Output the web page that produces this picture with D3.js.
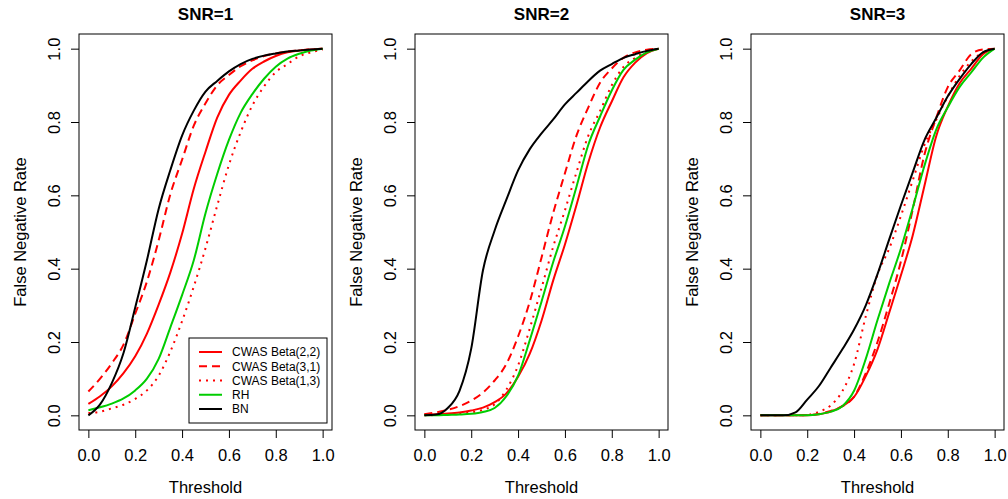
<!DOCTYPE html>
<html>
<head>
  <meta charset="utf-8">
  <title>False Negative Rate by Threshold</title>
  <style>
  body { margin: 0; background: #fff; }
  svg { display: block; font-family: "Liberation Sans", Arial, Helvetica, sans-serif; }
  .series { fill: none; stroke-width: 2px; }
  .axis text { font-size: 16.5px; fill: #000; }
  .axis line, .axis path { stroke: #000; }
  </style>
</head>
<body>
  <svg width="1008" height="499"></svg>
  <script src="https://d3js.org/d3.v7.min.js"></script>
  <script>
  // 1. data (threshold step 0.05)
  var thresholds = [0, 0.05, 0.1, 0.15, 0.2, 0.25, 0.3, 0.35, 0.4, 0.45, 0.5,
                    0.55, 0.6, 0.65, 0.7, 0.75, 0.8, 0.85, 0.9, 0.95, 1];
  var xTicks = [0, 0.2, 0.4, 0.6, 0.8, 1.0];
  var yTicks = [0, 0.2, 0.4, 0.6, 0.8, 1.0];
  var panelTitles = ["SNR=1", "SNR=2", "SNR=3"];
  var seriesNames = ["CWAS Beta(2,2)", "CWAS Beta(3,1)", "CWAS Beta(1,3)", "RH", "BN"];
  var seriesColors = ["#ff0000", "#ff0000", "#ff0000", "#00cd00", "#000000"];
  var seriesDash = [null, "8,5", "2,5", null, null];

  // SNR=1
  var snr1Beta22 = [0.031,0.052,0.079,0.115,0.161,0.223,0.302,0.39,0.495,0.618,0.719,0.812,0.874,0.913,0.945,0.965,0.98,0.99,0.995,0.998,1];
  var snr1Beta31 = [0.065,0.1,0.142,0.193,0.277,0.365,0.477,0.603,0.697,0.79,0.851,0.9,0.928,0.952,0.968,0.98,0.987,0.992,0.995,0.998,1];
  var snr1Beta13 = [0.006,0.01,0.019,0.029,0.045,0.068,0.108,0.174,0.257,0.351,0.456,0.572,0.683,0.772,0.845,0.897,0.936,0.958,0.979,0.99,0.998];
  var snr1RH     = [0.014,0.022,0.032,0.046,0.068,0.1,0.154,0.24,0.328,0.423,0.551,0.658,0.751,0.825,0.876,0.918,0.951,0.973,0.986,0.995,1];
  var snr1BN     = [0,0.03,0.088,0.17,0.294,0.423,0.563,0.669,0.763,0.831,0.883,0.912,0.938,0.958,0.972,0.981,0.987,0.992,0.995,0.998,1];
  // SNR=2
  var snr2Beta22 = [0.002,0.003,0.005,0.008,0.013,0.021,0.036,0.06,0.105,0.168,0.258,0.368,0.466,0.575,0.69,0.785,0.856,0.922,0.962,0.988,1];
  var snr2Beta31 = [0.003,0.008,0.015,0.025,0.04,0.062,0.095,0.14,0.215,0.31,0.43,0.552,0.66,0.764,0.84,0.907,0.946,0.975,0.99,0.997,1];
  var snr2Beta13 = [0,0.001,0.003,0.005,0.008,0.015,0.03,0.07,0.136,0.237,0.347,0.46,0.559,0.664,0.763,0.83,0.9,0.95,0.975,0.992,1];
  var snr2RH     = [0,0,0.001,0.002,0.004,0.009,0.02,0.052,0.108,0.205,0.31,0.418,0.515,0.625,0.738,0.815,0.886,0.942,0.97,0.99,1];
  var snr2BN     = [0,0.002,0.02,0.067,0.182,0.395,0.504,0.588,0.668,0.726,0.769,0.807,0.848,0.88,0.912,0.94,0.958,0.975,0.985,0.994,1];
  // SNR=3
  var snr3Beta22 = [0,0,0,0,0,0.003,0.01,0.025,0.05,0.107,0.18,0.28,0.382,0.49,0.625,0.76,0.842,0.905,0.945,0.985,1];
  var snr3Beta31 = [0,0,0,0,0.001,0.004,0.012,0.025,0.051,0.115,0.2,0.305,0.42,0.56,0.71,0.81,0.895,0.94,0.985,0.998,1];
  var snr3Beta13 = [0,0,0,0,0.001,0.01,0.027,0.066,0.14,0.27,0.384,0.455,0.544,0.64,0.737,0.805,0.87,0.925,0.965,0.99,1];
  var snr3RH     = [0,0,0,0,0,0.003,0.01,0.025,0.067,0.154,0.26,0.36,0.455,0.565,0.68,0.778,0.84,0.895,0.935,0.975,1];
  var snr3BN     = [0,0,0,0.008,0.043,0.08,0.13,0.18,0.234,0.3,0.385,0.48,0.573,0.662,0.75,0.81,0.87,0.917,0.958,0.99,1];

  var panels = [
    [snr1Beta22, snr1Beta31, snr1Beta13, snr1RH, snr1BN],
    [snr2Beta22, snr2Beta31, snr2Beta13, snr2RH, snr2BN],
    [snr3Beta22, snr3Beta31, snr3Beta13, snr3RH, snr3BN]
  ];

  // 2. layout
  var boxLeft0 = 79, boxStep = 336, boxW = 253, boxTop = 34, boxBottom = 430;
  var svg = d3.select("svg");

  panels.forEach(function(series, p) {
    var left = boxLeft0 + boxStep * p;
    var x = d3.scaleLinear().domain([-0.04, 1.04]).range([left, left + boxW]);
    var y = d3.scaleLinear().domain([-0.04, 1.04]).range([boxBottom, boxTop]);

    var g = svg.append("g");

    // lines
    var line = d3.line()
      .x(function(d, i) { return x(thresholds[i]); })
      .y(function(d) { return y(d); })
      .curve(d3.curveMonotoneX);

    series.forEach(function(vals, s) {
      g.append("path")
        .attr("class", "series")
        .attr("d", line(vals))
        .attr("stroke", seriesColors[s])
        .attr("stroke-dasharray", seriesDash[s]);
    });

    // box
    g.append("rect")
      .attr("x", left).attr("y", boxTop)
      .attr("width", boxW).attr("height", boxBottom - boxTop)
      .attr("fill", "none").attr("stroke", "#000").attr("stroke-width", 1);

    // axes
    var xAxis = g.append("g")
      .attr("class", "axis")
      .attr("transform", "translate(0," + boxBottom + ")")
      .call(d3.axisBottom(x).tickValues(xTicks).tickSize(8).tickSizeOuter(0).tickFormat(d3.format(".1f")));
    xAxis.select(".domain").remove();
    xAxis.selectAll("text").attr("y", 31).attr("dy", null)
      .attr("font-family", null).attr("font-size", null);

    var yAxis = g.append("g")
      .attr("class", "axis")
      .attr("transform", "translate(" + left + ",0)")
      .call(d3.axisLeft(y).tickValues(yTicks).tickSize(8).tickSizeOuter(0).tickFormat(d3.format(".1f")));
    yAxis.select(".domain").remove();
    yAxis.selectAll("text")
      .attr("x", 0).attr("y", -19).attr("dy", null)
      .attr("text-anchor", "middle")
      .attr("transform", "rotate(-90)")
      .attr("font-family", null).attr("font-size", null);

    var cx = left + boxW / 2;
    g.append("text")
      .attr("x", cx).attr("y", 20)
      .attr("text-anchor", "middle")
      .attr("font-size", "17px").attr("font-weight", "bold")
      .text(panelTitles[p]);

    g.append("text")
      .attr("x", cx).attr("y", 493)
      .attr("text-anchor", "middle")
      .attr("font-size", "16.5px")
      .text("Threshold");

    g.append("text")
      .attr("transform", "translate(" + (left - 53) + "," + ((boxTop + boxBottom) / 2) + ") rotate(-90)")
      .attr("text-anchor", "middle")
      .attr("font-size", "16.5px")
      .text("False Negative Rate");

    // legend (first panel only)
    if (p === 0) {
      var lgW = 138, lgH = 85;
      var lgX = left + boxW - 5 - lgW, lgY = boxBottom - 7 - lgH;
      var lg = g.append("g").attr("transform", "translate(" + lgX + "," + lgY + ")");
      lg.append("rect").attr("width", lgW).attr("height", lgH)
        .attr("fill", "#fff").attr("stroke", "#000").attr("stroke-width", 1);
      seriesNames.forEach(function(name, s) {
        var ry = 14 + 14.25 * s;
        lg.append("line")
          .attr("x1", 10).attr("x2", 33).attr("y1", ry).attr("y2", ry)
          .attr("stroke", seriesColors[s]).attr("stroke-width", 2)
          .attr("stroke-dasharray", seriesDash[s]);
        lg.append("text")
          .attr("x", 43).attr("y", ry).attr("dy", "0.36em")
          .attr("font-size", "12px")
          .text(name);
      });
    }
  });
  </script>
</body>
</html>
